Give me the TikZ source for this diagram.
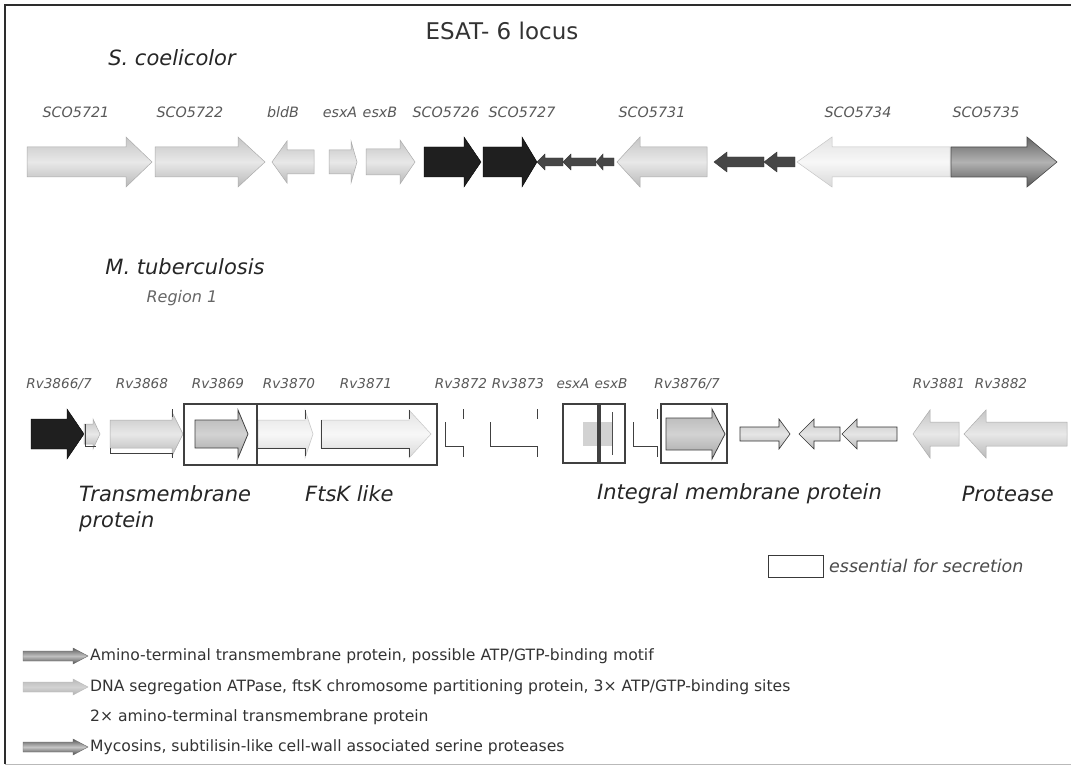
\documentclass[tikz,border=0pt]{standalone}
\usepackage{fontspec}
\setmainfont{DejaVu Sans}
% right-pointing gene: style, start, head base, tip, centre y, shaft half, head half
\newcommand\rgene[7]{\path[#1] (#2,{#5-#6}) -- (#3,{#5-#6}) -- (#3,{#5-#7}) -- (#4,#5) -- (#3,{#5+#7}) -- (#3,{#5+#6}) -- (#2,{#5+#6}) -- cycle;}
% left-pointing gene: style, tip, head base, end, centre y, shaft half, head half
\newcommand\lgene[7]{\path[#1] (#4,{#5-#6}) -- (#3,{#5-#6}) -- (#3,{#5-#7}) -- (#2,#5) -- (#3,{#5+#7}) -- (#3,{#5+#6}) -- (#4,{#5+#6}) -- cycle;}
% partial outline of a faint gene
\newcommand\genebracket[2]{\draw[outl] (#1,422) -- (#1,446) -- (#2,446) -- (#2,457) (#2,409) -- (#2,419);}
\begin{document}
\begin{tikzpicture}[x=1pt,y=-1pt,
  genelab/.style={font=\fontsize{14.3}{16}\selectfont\itshape, text=black!65, inner sep=0pt},
  rvlab/.style={font=\fontsize{13.6}{16}\selectfont\itshape, text=black!65, inner sep=0pt},
  headlab/.style={font=\fontsize{21}{24}\selectfont\itshape, text=black!85, inner sep=0pt},
  catlab/.style={font=\fontsize{21}{24}\selectfont\itshape, text=black!85, inner sep=0pt},
  legtext/.style={font=\fontsize{15.6}{18}\selectfont, text=black!80, inner sep=0pt, anchor=west},
  blk/.style={fill=black!88, draw=black},
  lg/.style={draw=gray!65, line width=0.5pt, top color=gray!45, bottom color=gray!55, middle color=gray!18},
  lgs/.style={draw=gray!40!black, line width=0.6pt, top color=gray!45, bottom color=gray!55, middle color=gray!20},
  vlg/.style={draw=gray!45, line width=0.5pt, top color=gray!22, bottom color=gray!30, middle color=gray!6},
  mg/.style={draw=black!75, line width=0.8pt, top color=gray!60, bottom color=gray!70, middle color=gray!35},
  dg/.style={draw=black!70, line width=0.6pt, top color=gray!80!black, bottom color=gray!70!black, middle color=gray!60},
  sd/.style={fill=gray!55!black, draw=gray!40!black, line width=0.4pt},
  outl/.style={draw=gray!50!black, line width=0.8pt},
  essbox/.style={draw=black!75, line width=1.3pt},
  legA/.style={draw=black!60, top color=gray!75!black, bottom color=gray!65!black, middle color=gray!50},
  legB/.style={draw=gray!55, top color=gray!55, bottom color=gray!60, middle color=gray!35},
  legD/.style={draw=black!60, top color=gray!70!black, bottom color=gray!60!black, middle color=gray!45}
]
\useasboundingbox (0,0) rectangle (1071,767);
\fill[white] (0,0) rectangle (1071,767);
% frame
\draw[gray!35!black, line width=1.4pt] (1071,5) -- (5,5) -- (5,764);
\draw[gray!55, line width=1pt] (5,764) -- (1071,764);

% titles
\node[font=\fontsize{23}{26}\selectfont, text=black!80, inner sep=0pt] (title) at (502,31) {ESAT- 6 locus};
\node[headlab] (scoel) at (172,58) {S. coelicolor};
\node[headlab] (mtb) at (185,267) {M. tuberculosis};
\node[font=\fontsize{16}{18}\selectfont\itshape, text=black!60, inner sep=0pt] (reg1) at (182,298) {Region 1};

% ---------- S. coelicolor row ----------
\node[genelab] (l5721) at (76,112) {SCO5721};
\node[genelab] (l5722) at (190,112) {SCO5722};
\node[genelab] (lbldB) at (283,112) {bldB};
\node[genelab] (lesxA1) at (340,112) {esxA};
\node[genelab] (lesxB1) at (380,112) {esxB};
\node[genelab] (l5726) at (446,112) {SCO5726};
\node[genelab] (l5727) at (522,112) {SCO5727};
\node[genelab] (l5731) at (652,112) {SCO5731};
\node[genelab] (l5734) at (858,112) {SCO5734};
\node[genelab] (l5735) at (986,112) {SCO5735};

\rgene{lg}{27}{126}{152}{162}{15}{25}
\rgene{lg}{155}{238}{265}{162}{15}{25}
\lgene{lg}{272}{287}{314}{162}{12}{21}
\rgene{lg}{329}{351}{357}{162}{12}{21}
\rgene{lg}{366}{400}{415}{162}{13}{22}
\rgene{blk}{424}{464}{481}{162}{15}{25}
\rgene{blk}{483}{522}{537}{162}{15}{25}
\lgene{sd}{537}{545}{563}{162}{4}{8}
\lgene{sd}{563}{571}{596}{162}{4}{8}
\lgene{sd}{596}{603}{614}{162}{4}{8}
\lgene{lg}{617}{640}{707}{162}{15}{25}
\lgene{sd}{714}{727}{764}{162}{5}{10}
\lgene{sd}{764}{777}{795}{162}{5}{10}
\lgene{vlg}{797}{832}{950}{162}{15}{25}
\rgene{dg}{951}{1027}{1057}{162}{15}{25}

% ---------- M. tuberculosis row ----------
\node[rvlab] (r3866) at (59,384) {Rv3866/7};
\node[rvlab] (r3868) at (142,384) {Rv3868};
\node[rvlab] (r3869) at (218,384) {Rv3869};
\node[rvlab] (r3870) at (289,384) {Rv3870};
\node[rvlab] (r3871) at (366,384) {Rv3871};
\node[rvlab] (r3872) at (461,384) {Rv3872};
\node[rvlab] (r3873) at (518,384) {Rv3873};
\node[rvlab] (resxA) at (573,384) {esxA};
\node[rvlab] (resxB) at (611,384) {esxB};
\node[rvlab] (r3876) at (687,384) {Rv3876/7};
\node[rvlab] (r3881) at (939,384) {Rv3881};
\node[rvlab] (r3882) at (1001,384) {Rv3882};

\rgene{blk}{31}{67}{84}{434}{15}{25}
\rgene{lg}{84}{93}{100}{434}{10}{15}
\draw[outl] (85,424) -- (85,446) -- (96,446);
\rgene{lg}{110}{172}{183}{434}{14}{22}
\draw[outl] (110,448) -- (110,453) -- (172,453) -- (172,458) (172,409) -- (172,417);
\rgene{mg}{195}{238}{248}{434}{14}{24}
\rgene{vlg}{258}{305}{313}{434}{14}{24}
\draw[outl] (258,448) -- (305,448) -- (305,456) (305,410) -- (305,419);
\rgene{vlg}{321}{409}{431}{434}{14}{24}
\draw[outl] (321,420) -- (321,448) -- (409,448) -- (409,457) (409,410) -- (409,419);
\genebracket{445}{463}
\genebracket{490}{537}
\fill[gray!35] (583,422) rectangle (612,446);
\draw[black!75, line width=3.5pt] (599,405) -- (599,462);
\draw[black!70, line width=1pt] (612,412) -- (612,455);
\genebracket{633}{657}
\rgene{mg}{666}{712}{725}{434}{16}{25}
\rgene{lgs}{740}{779}{790}{434}{7}{15}
\lgene{lgs}{799}{814}{840}{434}{7}{15}
\lgene{lgs}{842}{857}{897}{434}{7}{15}
\lgene{lg}{913}{930}{959}{434}{12}{24}
\lgene{lg}{964}{986}{1067}{434}{12}{24}

% essential boxes
\draw[essbox] (184,404) rectangle (257,465);
\draw[essbox] (257,404) rectangle (437,465);
\draw[essbox] (563,404) rectangle (625,463);
\draw[essbox] (661,404) rectangle (727,463);

% category labels
\node[catlab, anchor=west] (ctm) at (79,494) {Transmembrane};
\node[catlab, anchor=west] (ctm2) at (79,522) {protein};
\node[catlab, anchor=west] (cftsk) at (305,494) {FtsK like};
\node[catlab, anchor=west] (cimp) at (597,494) {Integral membrane protein};
\node[catlab, anchor=east] (cprot) at (1054,494) {Protease};

% essential legend
\draw[gray!45!black, line width=1pt] (768,555) rectangle (823,577);
\node[font=\fontsize{17.5}{20}\selectfont\itshape, text=black!70, inner sep=0pt, anchor=west] (ess) at (829,566) {essential for secretion};

% legend
\rgene{legA}{23}{73}{88}{656}{5}{8}
\rgene{legB}{23}{73}{88}{687}{5}{8}
\rgene{legD}{23}{73}{88}{747}{5}{8}
\node[legtext] (leg1) at (90,656) {Amino-terminal transmembrane protein, possible ATP/GTP-binding motif};
\node[legtext] (leg2) at (90,687) {DNA segregation ATPase, ftsK chromosome partitioning protein, 3× ATP/GTP-binding sites};
\node[legtext] (leg3) at (90,717) {2× amino-terminal transmembrane protein};
\node[legtext] (leg4) at (90,747) {Mycosins, subtilisin-like cell-wall associated serine proteases};
\end{tikzpicture}
\end{document}
